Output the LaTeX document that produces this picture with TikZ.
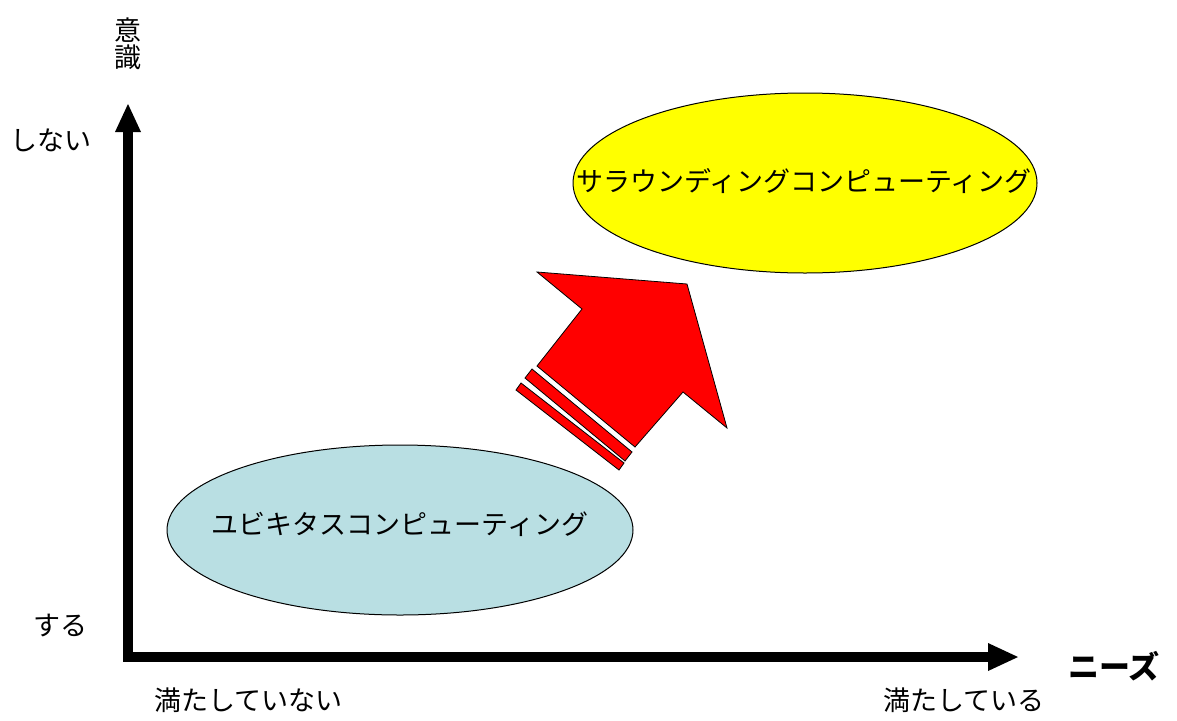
\documentclass[tikz,border=0pt]{standalone}
\usepackage{fontspec}
\newfontfamily\jp{Noto Sans CJK JP}
\definecolor{ubi}{HTML}{B9DFE3}
\definecolor{ylw}{RGB}{255,255,0}
\definecolor{rd}{RGB}{255,0,0}
\begin{document}
\begin{tikzpicture}[x=1pt,y=-1pt,
  lbl/.style={font=\jp\fontsize{27}{30}\selectfont, inner sep=0pt},
  ell/.style={draw=black, line width=1pt, ellipse}]
\useasboundingbox (0,0) rectangle (1177,720);
% axes
\coordinate (O) at (128,657);
\coordinate (Ytop) at (128,132);
\coordinate (Xend) at (990,657);
\draw[line width=9.5pt, line join=miter] (Ytop) -- (O) -- (Xend);
\fill (115,132) -- (128,104) -- (141,132) -- cycle;
\fill (988,643) -- (1018,657) -- (988,671) -- cycle;
% ellipses
\draw[fill=ubi, line width=1pt] (400,530) ellipse [x radius=233, y radius=85];
\draw[fill=ylw, line width=1pt] (805,183) ellipse [x radius=232, y radius=90];
\node[lbl] (ubiq) at (400,524) {ユビキタスコンピューティング};
\node[lbl] (surr) at (804,181) {サラウンディングコンピューティング};
% red arrow
\draw[fill=rd, line width=0.8pt, line join=miter]
  (537,366) -- (582,309) -- (537,272) -- (687,284) -- (727,428) -- (683,392) -- (635,447) -- cycle;
\draw[fill=rd, line width=0.8pt] (532,369) -- (525,378) -- (625,461) -- (632,452) -- cycle;
\draw[fill=rd, line width=0.8pt] (521,383) -- (516,390) -- (619,470) -- (624,463) -- cycle;
% labels
\node[lbl] (ishiki) at (128,44) {\shortstack{意\\[-1pt]識}};
\node[lbl, anchor=west] (shinai) at (10,140) {しない};
\node[lbl, anchor=west] (suru) at (33,626) {する};
\node[lbl, anchor=west] (mitasanai) at (154,700) {満たしていない};
\node[lbl, anchor=west] (mitasu) at (883,700) {満たしている};
\node[font=\jp\bfseries\fontsize{31}{34}\selectfont, inner sep=0pt, anchor=west] (needs) at (1068,666) {ニーズ};
\end{tikzpicture}
\end{document}
